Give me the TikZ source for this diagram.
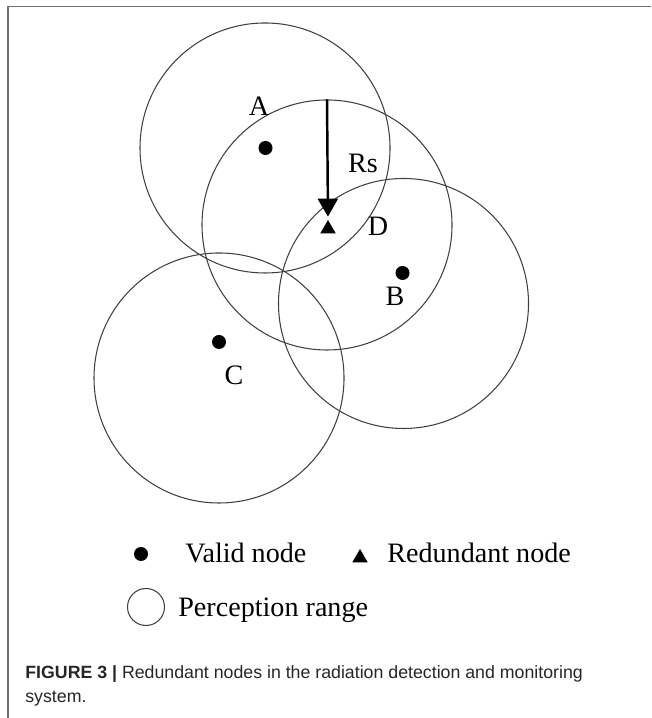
\documentclass[tikz,border=0pt]{standalone}
\usepackage{fontspec}
\setmainfont{Liberation Serif}
\newfontfamily\capfont{Liberation Sans}
\usepackage{tikz}
\usetikzlibrary{positioning}
\usetikzlibrary{shapes.geometric, arrows.meta}

\begin{document}
\begin{tikzpicture}[
    percrange/.style={draw=black!75, line width=0.6pt, circle, minimum size=5cm, inner sep=0pt},
    valid/.style={fill, circle, minimum size=0.28cm, inner sep=0pt},
    redundant/.style={fill, regular polygon, regular polygon sides=3, minimum size=0.36cm, inner sep=0pt},
    lbl/.style={font=\fontsize{16}{19}\selectfont, inner sep=0pt},
    legendtext/.style={lbl, anchor=base west},
    captext/.style={font=\capfont\fontsize{10.1}{12}\selectfont, text=black!85, inner sep=0pt, anchor=base west}
]
        \useasboundingbox (0,0) rectangle (13.02,14.36);
        \draw[black!55, line width=1pt] (0.16,0) -- (0.16,14.23) -- (13.02,14.23);

        % perception ranges
        \node (rangeA)[percrange] at (5.30,11.40) {};
        \node (rangeD)[percrange] at (6.54,9.86) {};
        \node (rangeB)[percrange] at (8.07,8.29) {};
        \node (rangeC)[percrange] at (4.38,6.80) {};

        % sensor nodes
        \node (a)[valid] at (5.31,11.40) {};
        \node (b)[valid] at (8.05,8.90) {};
        \node (c)[valid] at (4.38,7.52) {};
        \node (d)[redundant] at (6.56,9.78) {};

        \node (labA)[lbl] at (5.18,12.24) {A};
        \node (labB)[lbl] at (7.90,8.44) {B};
        \node (labC)[lbl] at (4.68,6.86) {C};
        \node (labD)[lbl] at (7.56,9.84) {D};
        \node (labRs)[lbl] at (7.26,11.10) {Rs};

        \draw[line width=1.4pt, -{Triangle[length=0.36cm, width=0.4cm]}, shorten >=1.5pt] (rangeD.north) -- (d.north);

        % legend
        \node (keyvalid)[valid] at (2.82,3.28) {};
        \node (txtvalid)[legendtext] at (3.70,3.10) {Valid node};
        \node (keyred)[redundant] at (7.20,3.20) {};
        \node (txtred)[legendtext] at (7.74,3.10) {Redundant node};
        \node (keyrange)[draw=black!75, line width=0.6pt, circle, minimum size=0.74cm, inner sep=0pt] at (2.92,2.22) {};
        \node (txtrange)[legendtext] at (3.56,2.03) {Perception range};

        % caption
        \node (cap1)[captext] at (0.50,0.78) {\textbf{FIGURE 3 |} Redundant nodes in the radiation detection and monitoring};
        \node (cap2)[captext] at (0.50,0.30) {system.};

    \end{tikzpicture}
\end{document}
